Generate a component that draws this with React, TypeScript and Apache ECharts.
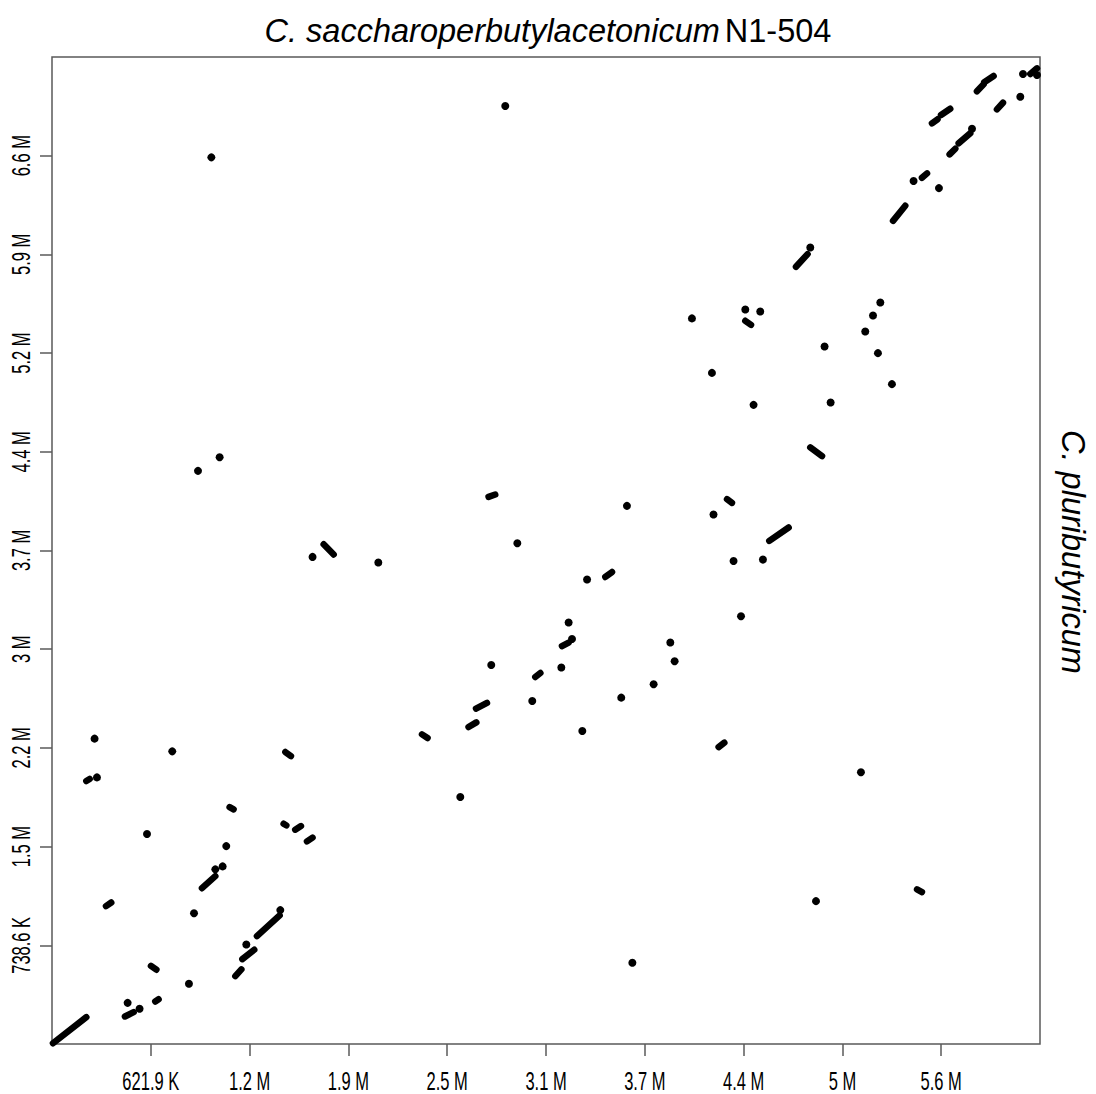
import React, { useEffect, useRef } from "react";
import * as echarts from "echarts";

// Axis extents (Mb)
const X_MAX = 6.219;
const Y_MAX = 7.386;

const X_TICK_VALUES = [0.6219, 1.2438, 1.8657, 2.4876, 3.1095, 3.7314, 4.3533, 4.9752, 5.5971];
const X_TICK_LABELS = ["621.9 K", "1.2 M", "1.9 M", "2.5 M", "3.1 M", "3.7 M", "4.4 M", "5 M", "5.6 M"];
const Y_TICK_VALUES = [0.7386, 1.4772, 2.2158, 2.9544, 3.693, 4.4316, 5.1702, 5.9088, 6.6474];
const Y_TICK_LABELS = ["738.6 K", "1.5 M", "2.2 M", "3 M", "3.7 M", "4.4 M", "5.2 M", "5.9 M", "6.6 M"];

const TITLE_ITALIC = "C. saccharoperbutylacetonicum";
const TITLE_PLAIN = "N1-504";
const Y_NAME = "C. pluributyricum";

// Single matches [x (Mb), y (Mb)]
const DOTS: number[][] = [
  [1.003, 6.635], [2.853, 7.019], [4.028, 5.43], [4.154, 5.022], [4.364, 5.497],
  [4.458, 5.482], [4.863, 5.22], [5.119, 5.332], [5.168, 5.452], [5.214, 5.549],
  [5.199, 5.17], [5.287, 4.938], [4.773, 5.961], [5.423, 6.458], [5.583, 6.405],
  [5.791, 6.849], [6.095, 7.089], [6.112, 7.259], [6.2, 7.251], [2.929, 3.747],
  [2.054, 3.603], [3.619, 4.027], [3.368, 3.476], [3.252, 3.154], [3.273, 3.031],
  [3.206, 2.817], [2.765, 2.836], [3.023, 2.567], [3.892, 3.004], [3.919, 2.864],
  [3.787, 2.692], [3.583, 2.592], [3.338, 2.342], [2.57, 1.848], [3.653, 0.608],
  [0.919, 4.289], [1.055, 4.391], [1.64, 3.645], [4.416, 4.783], [4.901, 4.801],
  [4.164, 3.962], [4.29, 3.615], [4.475, 3.625], [4.337, 3.201], [5.092, 2.033],
  [4.809, 1.069], [0.268, 2.285], [0.283, 1.995], [0.757, 2.19], [0.598, 1.571],
  [1.097, 1.481], [1.028, 1.307], [1.074, 1.329], [0.894, 0.979], [1.437, 1.002],
  [1.223, 0.745], [0.862, 0.451], [0.476, 0.308], [0.551, 0.264],
];

// Syntenic runs [x1, y1, x2, y2] (Mb)
const RUNS: number[][] = [
  [4.364, 5.412, 4.4, 5.382], [4.683, 5.816, 4.756, 5.911], [5.294, 6.16, 5.371, 6.273],
  [5.476, 6.482, 5.508, 6.515], [5.539, 6.89, 5.574, 6.92], [5.596, 6.952, 5.654, 6.999],
  [5.65, 6.657, 5.686, 6.7], [5.707, 6.74, 5.78, 6.815], [5.822, 7.129, 5.864, 7.182],
  [5.868, 7.197, 5.927, 7.244], [5.948, 6.994, 5.986, 7.044], [6.158, 7.259, 6.2, 7.301],
  [2.748, 4.094, 2.79, 4.112], [3.483, 3.495, 3.525, 3.532], [3.21, 2.978, 3.252, 3.004],
  [3.042, 2.746, 3.074, 2.776], [2.669, 2.51, 2.738, 2.552], [2.622, 2.372, 2.671, 2.407],
  [2.329, 2.317, 2.364, 2.29], [1.71, 3.74, 1.773, 3.663], [4.773, 4.464, 4.847, 4.399],
  [4.249, 4.077, 4.28, 4.049], [4.515, 3.765, 4.637, 3.865], [4.196, 2.222, 4.232, 2.255],
  [5.445, 1.157, 5.476, 1.137], [0.006, 0.006, 0.216, 0.201], [0.216, 1.968, 0.237, 1.983],
  [1.469, 2.185, 1.504, 2.155], [1.118, 1.773, 1.143, 1.756], [1.458, 1.649, 1.475, 1.636],
  [1.531, 1.604, 1.567, 1.631], [1.605, 1.516, 1.64, 1.544], [0.944, 1.166, 1.028, 1.256],
  [0.34, 1.032, 0.373, 1.059], [1.29, 0.807, 1.433, 0.962], [1.198, 0.635, 1.273, 0.705],
  [1.154, 0.508, 1.192, 0.558], [0.623, 0.585, 0.657, 0.556], [0.459, 0.206, 0.514, 0.238],
  [0.65, 0.318, 0.671, 0.335],
];

const FRAME = "#5a5a5a";
const SANS = "'Liberation Sans', Arial, Helvetica, sans-serif";
const TICK_FONT_SIZE = 25;
const TICK_SCALE = 0.66;

export default function App() {
  const ref = useRef<HTMLDivElement>(null);
  useEffect(() => {
    if (!ref.current) return;
    const chart = echarts.init(ref.current, undefined, { renderer: "svg" });
    chart.setOption({
      animation: false,
      backgroundColor: "#ffffff",
      title: {
        text: `{i|${TITLE_ITALIC}} {n|${TITLE_PLAIN}}`,
        left: "center",
        top: 9,
        textStyle: {
          rich: {
            i: { fontFamily: SANS, fontSize: 32.5, fontStyle: "italic", fontWeight: "normal", color: "#000" },
            n: { fontFamily: SANS, fontSize: 32.5, fontWeight: "normal", color: "#000" },
          },
        },
      },
      grid: {
        left: 52,
        right: 56,
        top: 57,
        bottom: 50,
        show: true,
        borderColor: FRAME,
        borderWidth: 1.5,
        backgroundColor: "transparent",
      },
      xAxis: {
        type: "value",
        min: 0,
        max: X_MAX,
        axisLine: { show: false },
        splitLine: { show: false },
        axisTick: {
          show: true,
          length: 12,
          customValues: X_TICK_VALUES,
          lineStyle: { color: FRAME, width: 1.5 },
        },
        axisLabel: { show: false },
      },
      yAxis: {
        type: "value",
        min: 0,
        max: Y_MAX,
        axisLine: { show: false },
        splitLine: { show: false },
        axisTick: {
          show: true,
          length: 12,
          customValues: Y_TICK_VALUES,
          lineStyle: { color: FRAME, width: 1.5 },
        },
        axisLabel: { show: false },
      },
      graphic: [
        {
          type: "text",
          x: 1073,
          y: 552,
          rotation: -Math.PI / 2,
          style: {
            text: Y_NAME,
            fontFamily: SANS,
            fontSize: 32.5,
            fontStyle: "italic",
            fill: "#000",
            align: "center",
            verticalAlign: "middle",
          },
        },
      ],
      series: [
        {
          type: "custom",
          data: RUNS,
          encode: { x: [0, 2], y: [1, 3] },
          renderItem: (params: any, api: any) => {
            const p1 = api.coord([api.value(0), api.value(1)]);
            const p2 = api.coord([api.value(2), api.value(3)]);
            return {
              type: "line",
              shape: { x1: p1[0], y1: p1[1], x2: p2[0], y2: p2[1] },
              style: { stroke: "#000", lineWidth: 6.5, lineCap: "round" },
            };
          },
        },
        {
          type: "scatter",
          data: DOTS,
          symbol: "circle",
          symbolSize: 8,
          itemStyle: { color: "#000", opacity: 1 },
        },
        {
          // x tick labels (condensed), positioned through the x scale
          type: "custom",
          clip: false,
          silent: true,
          data: X_TICK_VALUES.map((v, i) => [v, 0, i]),
          encode: { x: 0, y: 1 },
          renderItem: (params: any, api: any) => {
            const p = api.coord([api.value(0), 0]);
            return {
              type: "text",
              x: p[0],
              y: p[1] + 37,
              scaleX: TICK_SCALE,
              style: {
                text: X_TICK_LABELS[api.value(2)],
                fontFamily: SANS,
                fontSize: TICK_FONT_SIZE,
                fill: "#000",
                align: "center",
                verticalAlign: "middle",
              },
            };
          },
        },
        {
          // y tick labels (condensed, rotated), positioned through the y scale
          type: "custom",
          clip: false,
          silent: true,
          data: Y_TICK_VALUES.map((v, i) => [0, v, i]),
          encode: { x: 0, y: 1 },
          renderItem: (params: any, api: any) => {
            const p = api.coord([0, api.value(1)]);
            return {
              type: "text",
              x: p[0] - 31,
              y: p[1],
              rotation: Math.PI / 2,
              scaleX: TICK_SCALE,
              style: {
                text: Y_TICK_LABELS[api.value(2)],
                fontFamily: SANS,
                fontSize: TICK_FONT_SIZE,
                fill: "#000",
                align: "center",
                verticalAlign: "middle",
              },
            };
          },
        },
      ],
    });
    return () => chart.dispose();
  }, []);
  return (
    <div
      ref={ref}
      style={{ position: "fixed", left: 0, top: 0, width: 1096, height: 1094, background: "#fff" }}
    />
  );
}
